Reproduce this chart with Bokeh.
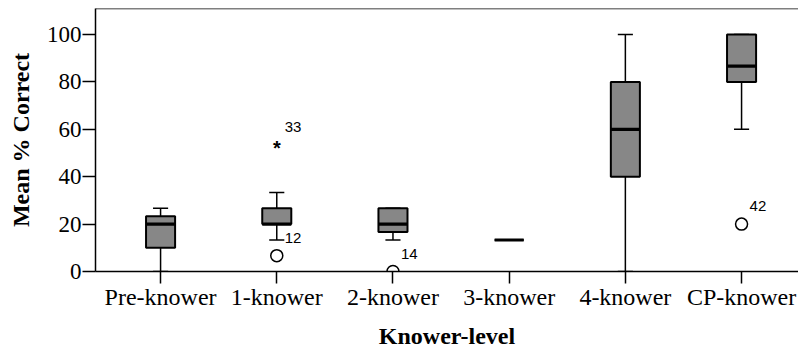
from bokeh.plotting import figure
from bokeh.models import ColumnDataSource, FixedTicker, Range1d, Span
from bokeh.embed import file_html
from bokeh.resources import INLINE
from bokeh.core.properties import value

categories = ["Pre-knower", "1-knower", "2-knower", "3-knower", "4-knower", "CP-knower"]
lower_whisker = [0.0, 13.3, 13.3, 13.3, 0.0, 60.0]
q1 = [10.0, 20.0, 16.7, 13.3, 40.0, 80.0]
median = [20.0, 20.0, 20.0, 13.3, 60.0, 86.7]
q3 = [23.3, 26.7, 26.7, 13.3, 80.0, 100.0]
upper_whisker = [26.7, 33.3, 26.7, 13.3, 100.0, 100.0]

outlier_category = ["1-knower", "2-knower", "CP-knower"]
outlier_value = [6.7, 0.0, 20.0]
outlier_label = ["12", "14", "42"]
extreme_category = ["1-knower"]
extreme_value = [53.3]
extreme_label = ["33"]

yticks = [0, 20, 40, 60, 80, 100]

BOX_W = 0.25
CAP_W = 0.13
Y_MAX = 111

xs = list(range(len(categories)))
idx = {c: i for i, c in enumerate(categories)}

p = figure(frame_width=703, frame_height=263, output_backend="svg", toolbar_location=None,
           x_range=Range1d(-0.56, 5.49), y_range=Range1d(0, Y_MAX),
           min_border_left=95, min_border_right=0, min_border_top=8, min_border_bottom=78)

box = ColumnDataSource(dict(x=xs, lw=lower_whisker, q1=q1, med=median, q3=q3, uw=upper_whisker,
                            l=[x - BOX_W / 2 for x in xs], r=[x + BOX_W / 2 for x in xs],
                            cl=[x - CAP_W / 2 for x in xs], cr=[x + CAP_W / 2 for x in xs]))

# whiskers
p.segment(x0="x", y0="q3", x1="x", y1="uw", source=box, line_color="black", line_width=1.5)
p.segment(x0="x", y0="q1", x1="x", y1="lw", source=box, line_color="black", line_width=1.5)
# caps
p.segment(x0="cl", y0="uw", x1="cr", y1="uw", source=box, line_color="black", line_width=1.5)
p.segment(x0="cl", y0="lw", x1="cr", y1="lw", source=box, line_color="black", line_width=1.5)
# boxes
p.quad(left="l", right="r", bottom="q1", top="q3", source=box, fill_color="#878787",
       line_color="black", line_width=2)
# medians
p.segment(x0="l", y0="med", x1="r", y1="med", source=box, line_color="black", line_width=3.2)

out = ColumnDataSource(dict(x=[idx[c] for c in outlier_category], y=outlier_value, t=outlier_label))
p.scatter(x="x", y="y", source=out, marker="circle", size=12, fill_color=None,
          line_color="black", line_width=1.5)
p.text(x="x", y="y", text="t", source=out, x_offset=8, y_offset=-18, text_align="left",
       text_baseline="middle", text_font=value("Liberation Sans"), text_font_size="15px",
       text_color="black")

ext = ColumnDataSource(dict(x=[idx[c] for c in extreme_category], y=extreme_value, t=extreme_label,
                            star=["*"] * len(extreme_value)))
p.text(x="x", y="y", text="star", source=ext, x_offset=0, y_offset=3, text_align="center",
       text_baseline="alphabetic", text_font=value("Liberation Sans"), text_font_style="bold",
       text_font_size="20px", text_color="black")
p.text(x="x", y="y", text="t", source=ext, x_offset=8, y_offset=-18, text_align="left",
       text_baseline="middle", text_font=value("Liberation Sans"), text_font_size="15px",
       text_color="black")

p.xgrid.visible = False
p.ygrid.visible = False
p.outline_line_color = None
p.add_layout(Span(location=Y_MAX, dimension="width", line_color="black", line_width=1.5))

p.xaxis.ticker = FixedTicker(ticks=xs)
p.xaxis.major_label_overrides = {i: c for i, c in enumerate(categories)}
p.yaxis.ticker = FixedTicker(ticks=yticks)

for ax in (p.xaxis[0], p.yaxis[0]):
    ax.axis_line_color = "black"
    ax.axis_line_width = 1.5
    ax.major_tick_line_color = "black"
    ax.major_tick_line_width = 1.5
    ax.major_tick_in = 0
    ax.minor_tick_line_color = None
    ax.major_label_text_font = "Liberation Serif"
    ax.major_label_text_color = "black"
    ax.axis_label_text_font = "Liberation Serif"
    ax.axis_label_text_font_style = "bold"
    ax.axis_label_text_font_size = "24px"
    ax.axis_label_text_color = "black"

p.xaxis.major_tick_out = 12
p.yaxis.major_tick_out = 13
p.xaxis.axis_label = "Knower-level"
p.yaxis.axis_label = "Mean % Correct"
p.xaxis.major_label_text_font_size = "24px"
p.yaxis.major_label_text_font_size = "23px"
p.xaxis.major_label_standoff = 0
p.yaxis.major_label_standoff = 1
p.xaxis.axis_label_standoff = 10
p.yaxis.axis_label_standoff = 10

open("out.html", "w").write(file_html(p, INLINE))
